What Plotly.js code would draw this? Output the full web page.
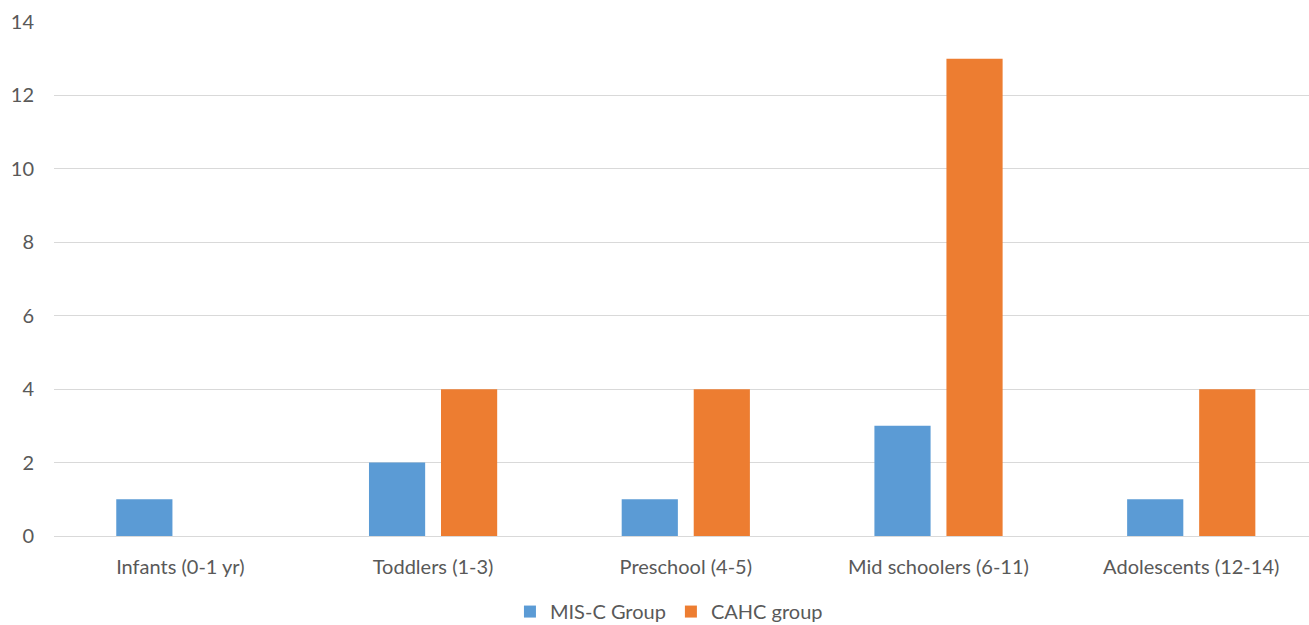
<!DOCTYPE html>
<html>
<head>
<meta charset="utf-8">
<script src="https://cdn.plot.ly/plotly-3.0.1.min.js"></script>
<style>html,body{margin:0;padding:0;background:#fff;}#chart{width:1309px;height:625px;}</style>
</head>
<body>
<div id="chart"></div>
<script>
const categories = ["Infants (0-1 yr)", "Toddlers (1-3)", "Preschool (4-5)", "Mid schoolers (6-11)", "Adolescents (12-14)"];
const miscValues = [1, 2, 1, 3, 1];
const cahcValues = [0, 4, 4, 13, 4];
const seriesNames = ["MIS-C Group", "CAHC group"];
const yTicks = [0, 2, 4, 6, 8, 10, 12, 14];

const font = {family: "Lato, 'Open Sans', sans-serif", size: 20, color: "#595959"};

const data = [
  {type: "bar", x: categories, y: miscValues, name: seriesNames[0], marker: {color: "#5B9BD5"}, hoverinfo: "none"},
  {type: "bar", x: categories, y: cahcValues, name: seriesNames[1], marker: {color: "#ED7D31"}, hoverinfo: "none"}
];

const layout = {
  width: 1309, height: 625,
  margin: {l: 54, r: 0, t: 22, b: 89, autoexpand: false},
  paper_bgcolor: "#fff", plot_bgcolor: "#fff",
  font: font,
  barmode: "group",
  bargap: 0.43,
  bargroupgap: 0.22,
  showlegend: true,
  legend: {orientation: "h", x: 0.49, xanchor: "center", y: -0.147, yanchor: "middle", font: font, itemwidth: 30, tracegroupgap: 0, traceorder: "normal"},
  xaxis: {type: "category", range: [-0.5, 4.466], showgrid: false, zeroline: false, showline: false, ticks: "outside", ticklen: 13, tickcolor: "rgba(0,0,0,0)", tickfont: font, fixedrange: true, automargin: false},
  yaxis: {range: [0, 14], tickvals: yTicks, ticktext: yTicks.map(String), showgrid: true, gridcolor: "#d9d9d9", gridwidth: 1, zeroline: true, zerolinecolor: "#d9d9d9", zerolinewidth: 1, showline: false, ticks: "outside", ticklen: 15, tickcolor: "rgba(0,0,0,0)", tickfont: font, fixedrange: true, automargin: false}
};

Plotly.newPlot("chart", data, layout, {displayModeBar: false, staticPlot: true});
</script>
</body>
</html>
